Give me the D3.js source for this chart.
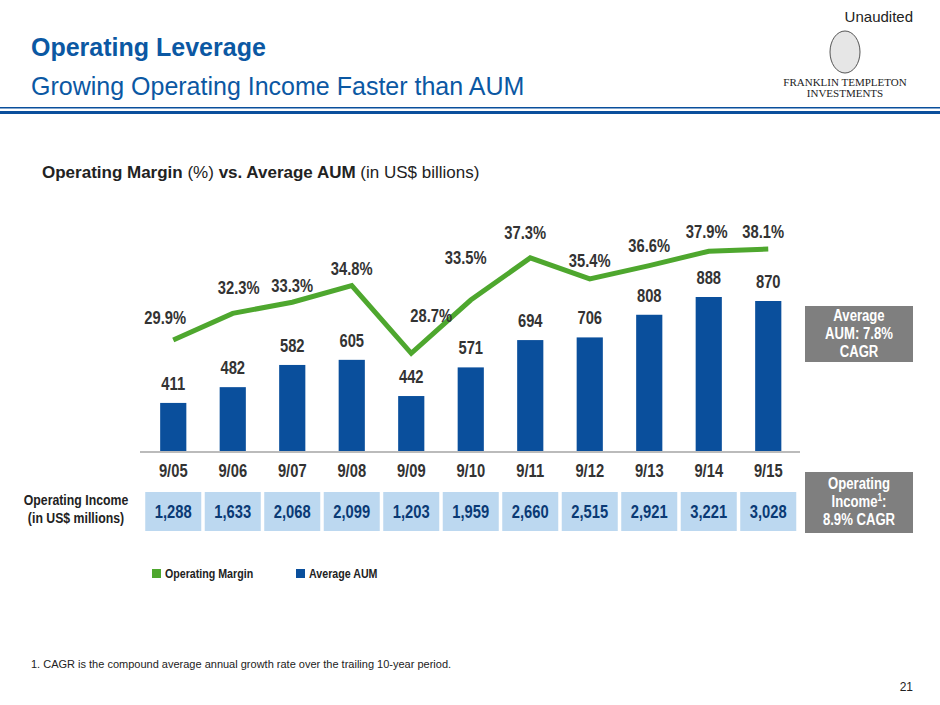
<!DOCTYPE html>
<html><head><meta charset="utf-8">
<script src="https://cdn.jsdelivr.net/npm/d3@7"></script>
<style>body{margin:0;background:#fff}svg{font-family:Arial,"Liberation Sans",sans-serif}.n{font-weight:bold}</style>
</head><body><svg id="c" width="940" height="705"></svg>
<script>
const years = ['9/05','9/06','9/07','9/08','9/09','9/10','9/11','9/12','9/13','9/14','9/15'];
const aum = [411,482,582,605,442,571,694,706,808,888,870];
const margin = [29.9,32.3,33.3,34.8,28.7,33.5,37.3,35.4,36.6,37.9,38.1];
const opIncome = ['1,288','1,633','2,068','2,099','1,203','1,959','2,660','2,515','2,921','3,221','3,028'];

const navy = '#0a4f9c', green = '#4ea72e', text = '#222';
const svg = d3.select('#c');
const SX = 0.82; // narrow look

function narrow(sel, fx, fy) {
  return sel.attr('class', 'n').attr('transform', (d, i) => `translate(${fx(d, i)},${fy(d, i)}) scale(${SX},1)`);
}

svg.append('text').attr('x', 913).attr('y', 22).attr('text-anchor', 'end').attr('font-size', 15).attr('fill', text).text('Unaudited');
svg.append('text').attr('x', 31).attr('y', 56).attr('font-size', 25).attr('font-weight', 'bold').attr('fill', '#0b58a3').text('Operating Leverage');
svg.append('text').attr('x', 31).attr('y', 95).attr('font-size', 25).attr('fill', '#0b58a3').text('Growing Operating Income Faster than AUM');
svg.append('rect').attr('x', 0).attr('y', 107).attr('width', 940).attr('height', 1.5).attr('fill', navy);
svg.append('rect').attr('x', 0).attr('y', 111).attr('width', 940).attr('height', 3).attr('fill', navy);

// logo
svg.append('ellipse').attr('cx', 845).attr('cy', 52).attr('rx', 15).attr('ry', 21).attr('fill', '#e6e6e6').attr('stroke', '#555');
svg.append('text').attr('x', 845).attr('y', 86).attr('text-anchor', 'middle').attr('font-family', 'Liberation Serif,serif').attr('font-size', 11).attr('fill', text).text('FRANKLIN TEMPLETON');
svg.append('text').attr('x', 845).attr('y', 97).attr('text-anchor', 'middle').attr('font-family', 'Liberation Serif,serif').attr('font-size', 11).attr('fill', text).text('INVESTMENTS');

const sub = svg.append('text').attr('x', 42).attr('y', 178).attr('font-size', 17).attr('fill', text);
sub.append('tspan').attr('font-weight', 'bold').text('Operating Margin');
sub.append('tspan').text(' (%) ');
sub.append('tspan').attr('font-weight', 'bold').text('vs. Average AUM');
sub.append('tspan').text(' (in US$ billions)');

const x = d3.scaleBand().domain(years).range([143.5, 798]).paddingInner(0.56).paddingOuter(0.28);
const y = d3.scaleLinear().domain([190, 888]).range([452, 297]);
const ym = d3.scaleLinear().domain([29.9, 38.1]).range([340, 249]);
const cx = d => x(d) + x.bandwidth() / 2;

svg.selectAll('.bar').data(aum).enter().append('rect')
  .attr('x', (d, i) => x(years[i])).attr('width', x.bandwidth())
  .attr('y', d => y(d)).attr('height', d => 452 - y(d)).attr('fill', navy);
narrow(svg.selectAll('.bl').data(aum).enter().append('text'), (d, i) => cx(years[i]), d => y(d) - 13)
  .attr('text-anchor', 'middle').attr('font-size', 18).attr('fill', '#333').text(d => d);

svg.append('line').attr('x1', 140).attr('x2', 800).attr('y1', 452).attr('y2', 452).attr('stroke', '#bbb').attr('stroke-width', 2);

svg.append('path').datum(margin)
  .attr('d', d3.line().x((d, i) => cx(years[i])).y(d => ym(d)))
  .attr('fill', 'none').attr('stroke', green).attr('stroke-width', 5);
const mDx = [-8, 6, 0, 0, 20, -5, -5, 0, 0, -2, -5];
const mDy = [-16, -19, -10, -11, -31, -36, -19, -12, -14, -13, -11];
narrow(svg.selectAll('.ml').data(margin).enter().append('text'), (d, i) => cx(years[i]) + mDx[i], (d, i) => ym(d) + mDy[i])
  .attr('text-anchor', 'middle').attr('font-size', 18).attr('fill', '#333')
  .text(d => d.toFixed(1) + '%');

narrow(svg.selectAll('.yr').data(years).enter().append('text'), d => cx(d), () => 477)
  .attr('text-anchor', 'middle').attr('font-size', 18).attr('fill', '#333').text(d => d);

svg.selectAll('.ob').data(years).enter().append('rect')
  .attr('x', d => cx(d) - 28).attr('y', 492).attr('width', 56).attr('height', 39).attr('fill', '#bcd8f0');
narrow(svg.selectAll('.ot').data(opIncome).enter().append('text'), (d, i) => cx(years[i]), () => 518)
  .attr('text-anchor', 'middle').attr('font-size', 18).attr('fill', '#0a3a75').text(d => d);

narrow(svg.append('text'), () => 76, () => 505).attr('text-anchor', 'middle').attr('font-size', 15).attr('fill', text).text('Operating Income');
narrow(svg.append('text'), () => 76, () => 523).attr('text-anchor', 'middle').attr('font-size', 15).attr('fill', text).text('(in US$ millions)');

function grayBox(y0, h, lines, ty) {
  svg.append('rect').attr('x', 805).attr('y', y0).attr('width', 108).attr('height', h).attr('fill', '#7f7f7f');
  lines.forEach((l, i) => {
    const t = narrow(svg.append('text'), () => 859, () => ty + i * 18).attr('text-anchor', 'middle')
      .attr('font-size', 16).attr('fill', '#fff');
    l.forEach(p => t.append('tspan').attr('font-size', p.sup ? 10 : 16).attr('dy', p.sup ? -6 : (p.down ? 6 : 0)).text(p.t));
  });
}
grayBox(306, 56, [[{t: 'Average'}], [{t: 'AUM: 7.8%'}], [{t: 'CAGR'}]], 321);
grayBox(472, 61, [[{t: 'Operating'}], [{t: 'Income'}, {t: '1', sup: true}, {t: ':', down: true}], [{t: '8.9% CAGR'}]], 489);

svg.append('rect').attr('x', 152).attr('y', 569).attr('width', 9).attr('height', 9).attr('fill', green);
narrow(svg.append('text'), () => 165, () => 578).attr('font-size', 13).attr('fill', text).text('Operating Margin');
svg.append('rect').attr('x', 296).attr('y', 569).attr('width', 9).attr('height', 9).attr('fill', navy);
narrow(svg.append('text'), () => 309, () => 578).attr('font-size', 13).attr('fill', text).text('Average AUM');

svg.append('text').attr('x', 31).attr('y', 668).attr('font-size', 11).attr('fill', text).text('1.  CAGR is the compound average annual growth rate over the trailing 10-year period.');
svg.append('text').attr('x', 913).attr('y', 691).attr('text-anchor', 'end').attr('font-size', 12).attr('fill', text).text('21');
</script></body></html>
